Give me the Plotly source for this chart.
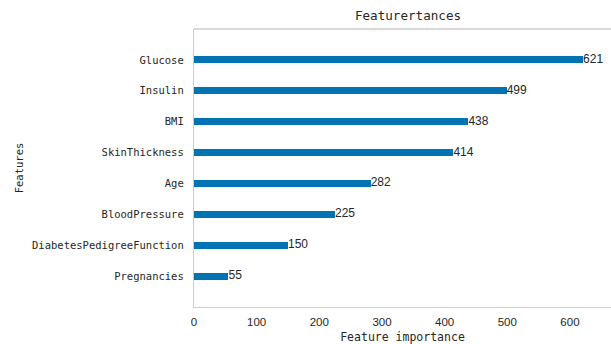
import plotly.graph_objects as go

# Feature importance scores (bottom to top)
features = ["Pregnancies", "DiabetesPedigreeFunction", "BloodPressure", "Age",
            "SkinThickness", "BMI", "Insulin", "Glucose"]
scores = [55, 150, 225, 282, 414, 438, 499, 621]

bar_color = "#0173b2"
text_color = "#262626"
spine_color = "#cccccc"
mono = "DejaVu Sans Mono"
sans = "Liberation Sans"

W, H = 611, 344
ml, mt, mb = 194, 29, 37
full_right = 622  # right edge of the axes box (lies just past the page edge)
xmax_full = max(scores) * 1.1
px_per_unit = (full_right - ml) / xmax_full
x_visible_max = (W - ml) / px_per_unit

ypos = list(range(len(features)))

fig = go.Figure()
fig.add_trace(go.Bar(
    x=scores, y=ypos, orientation="h", width=0.22,
    marker=dict(color=bar_color, line=dict(width=0)),
    hoverinfo="skip",
))
fig.add_trace(go.Scatter(
    x=scores, y=ypos, mode="text",
    text=[str(v) for v in scores], textposition="middle right",
    textfont=dict(family=sans, size=12, color=text_color),
    hoverinfo="skip",
))

# top spine
fig.add_shape(type="line", xref="paper", yref="paper", x0=0, x1=1, y0=1, y1=1,
              line=dict(color=spine_color, width=1.3))

title_center = (ml + full_right) / 2
fig.update_layout(
    width=W, height=H,
    margin=dict(l=ml, r=0, t=mt, b=mb, pad=0, autoexpand=False),
    paper_bgcolor="white", plot_bgcolor="white",
    showlegend=False,
    bargap=0,
    title=dict(text="Featurertances", x=(title_center - ml) / (W - ml), xref="paper",
               xanchor="center", y=1 - 16 / H, yanchor="middle",
               font=dict(family=mono, size=12.6, color=text_color)),
    xaxis=dict(
        range=[0, x_visible_max], tickvals=[0, 100, 200, 300, 400, 500, 600],
        showgrid=False, zeroline=False, showline=True, linecolor=spine_color, linewidth=1.3,
        ticks="", ticklabelstandoff=4, automargin=False,
        tickfont=dict(family=sans, size=11.5, color=text_color),
        title=dict(text="Feature importance", standoff=5,
                   font=dict(family=mono, size=11.5, color=text_color)),
    ),
    yaxis=dict(
        range=[-1, len(features)], tickvals=ypos, ticktext=features,
        showgrid=False, zeroline=False, showline=True, linecolor=spine_color, linewidth=1.3,
        ticks="", ticklabelstandoff=7, automargin=False,
        tickfont=dict(family=mono, size=10.5, color=text_color),
        title=dict(text="Features", standoff=6,
                   font=dict(family=mono, size=10.5, color=text_color)),
    ),
)

fig.write_html("out.html")
